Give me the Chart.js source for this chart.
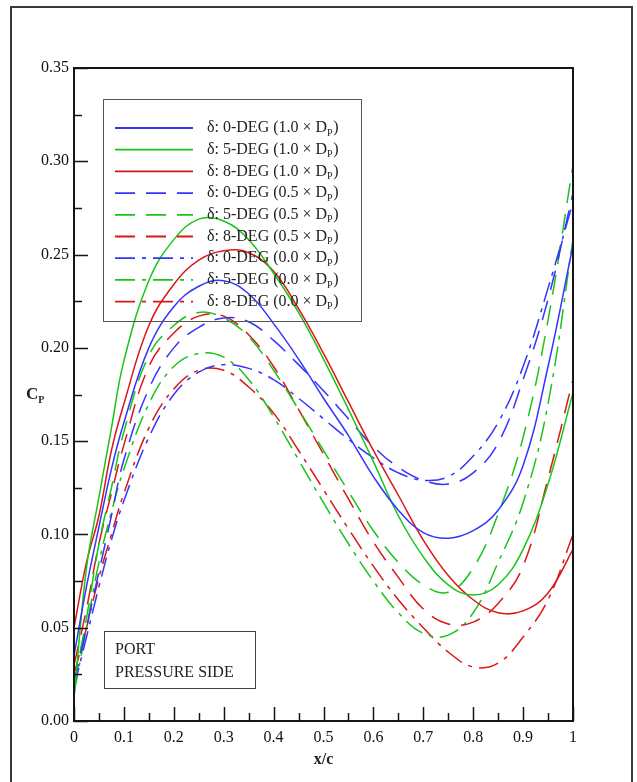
<!DOCTYPE html>
<html><head><meta charset="utf-8">
<script src="https://cdn.jsdelivr.net/npm/chart.js@4/dist/chart.umd.min.js"></script>
<style>html,body{margin:0;padding:0;background:#fff;}canvas{display:block;}</style>
</head><body>
<canvas id="c" width="637" height="782"></canvas>
<script>
// x/c stations
const xc = [0,0.025,0.05,0.075,0.1,0.15,0.2,0.25,0.3,0.35,0.4,0.45,0.5,0.55,0.6,0.65,0.7,0.75,0.8,0.85,0.9,0.95,1.0];
// Cp values, 1.0 x Dp (solid)
const cp_0deg_10 = [0.035,0.072,0.104,0.135,0.16,0.2,0.222,0.233,0.236,0.229,0.213,0.194,0.173,0.153,0.131,0.113,0.101,0.098,0.102,0.113,0.137,0.19,0.255];
const cp_5deg_10 = [0.012,0.082,0.12,0.157,0.193,0.236,0.258,0.269,0.268,0.258,0.24,0.219,0.194,0.167,0.139,0.11,0.088,0.073,0.0675,0.073,0.092,0.127,0.176];
const cp_8deg_10 = [0.05,0.085,0.11,0.145,0.17,0.212,0.234,0.247,0.252,0.251,0.241,0.221,0.197,0.171,0.145,0.121,0.097,0.078,0.065,0.058,0.059,0.0686,0.092];
// 0.5 x Dp (dashed)
const cp_0deg_05 = [0.02,0.05,0.08,0.11,0.14,0.178,0.2,0.211,0.216,0.214,0.204,0.191,0.177,0.162,0.147,0.136,0.129,0.127,0.133,0.149,0.183,0.226,0.283];
const cp_5deg_05 = [0.02,0.055,0.095,0.125,0.155,0.196,0.212,0.219,0.216,0.206,0.188,0.167,0.145,0.123,0.102,0.085,0.073,0.069,0.082,0.111,0.152,0.215,0.298];
const cp_8deg_05 = [0.03,0.06,0.095,0.122,0.148,0.19,0.208,0.217,0.217,0.207,0.19,0.167,0.143,0.119,0.096,0.077,0.06,0.052,0.053,0.063,0.083,0.13,0.183];
// 0.0 x Dp (dash-dot)
const cp_0deg_00 = [0.018,0.045,0.072,0.097,0.118,0.152,0.175,0.187,0.191,0.189,0.183,0.173,0.162,0.151,0.141,0.133,0.129,0.131,0.142,0.16,0.19,0.232,0.278];
const cp_5deg_00 = [0.015,0.05,0.085,0.112,0.135,0.17,0.19,0.197,0.195,0.183,0.163,0.14,0.117,0.095,0.075,0.058,0.047,0.046,0.058,0.085,0.117,0.17,0.258];
const cp_8deg_00 = [0.025,0.05,0.077,0.1,0.122,0.157,0.178,0.188,0.188,0.179,0.165,0.145,0.124,0.103,0.083,0.065,0.05,0.037,0.029,0.031,0.045,0.065,0.1];

const angles = ['0','5','8'];
const factors = ['1.0','0.5','0.0'];
const yTickLabels = ['0.00','0.05','0.10','0.15','0.20','0.25','0.30','0.35'];

const series = [cp_0deg_10,cp_5deg_10,cp_8deg_10,cp_0deg_05,cp_5deg_05,cp_8deg_05,cp_0deg_00,cp_5deg_00,cp_8deg_00];
const colors = ['#3434ff','#18c418','#dc1616'];
const dashes = [[],[20,11],[20,7,4,7]];
const FONT = '"Liberation Serif","Times New Roman",serif';

const datasets = series.map((s,i)=>({
  label: 'δ: '+angles[i%3]+'-DEG ('+factors[Math.floor(i/3)]+' × DP)',
  data: s.map((v,k)=>({x:xc[k], y:v})),
  borderColor: colors[i%3],
  borderDash: dashes[Math.floor(i/3)],
  borderWidth: 1.5,
  pointRadius: 0,
  tension: 0.4,
  fill: false
}));

const deco = {
  id:'deco',
  beforeDraw(chart){
    const ctx = chart.ctx;
    ctx.save();
    ctx.fillStyle='#fff'; ctx.fillRect(0,0,chart.width,chart.height);
    ctx.strokeStyle='#3a3a3a'; ctx.lineWidth=2;
    ctx.beginPath(); ctx.moveTo(11,800); ctx.lineTo(11,7); ctx.lineTo(632,7); ctx.lineTo(632,800); ctx.stroke();
    ctx.restore();
  },
  afterDatasetsDraw(chart){
    const {ctx, chartArea:a, scales:{x,y}} = chart;
    ctx.save();
    // plot frame
    ctx.strokeStyle='#151515'; ctx.lineWidth=2;
    ctx.strokeRect(a.left, a.top, a.right-a.left, a.bottom-a.top);
    // ticks (inward)
    ctx.lineWidth=1.5;
    const xt = x.ticks.map(t=>t.value), yt = y.ticks.map(t=>t.value);
    ctx.beginPath();
    xt.forEach((v,i)=>{
      const px = Math.round(x.getPixelForValue(v))+0.5;
      ctx.moveTo(px,a.bottom); ctx.lineTo(px,a.bottom-14);
      if(i<xt.length-1){const pm=Math.round(x.getPixelForValue((v+xt[i+1])/2))+0.5; ctx.moveTo(pm,a.bottom); ctx.lineTo(pm,a.bottom-8);}
    });
    yt.forEach((v,i)=>{
      const py = Math.round(y.getPixelForValue(v))+0.5;
      ctx.moveTo(a.left,py); ctx.lineTo(a.left+14,py);
      if(i<yt.length-1){const pm=Math.round(y.getPixelForValue((v+yt[i+1])/2))+0.5; ctx.moveTo(a.left,pm); ctx.lineTo(a.left+8,pm);}
    });
    ctx.stroke();

    // legend
    ctx.lineWidth=1; ctx.strokeStyle='#555';
    ctx.strokeRect(103.5,99.5,258,222);
    chart.data.datasets.forEach((ds,i)=>{
      const ry = 128 + i*21.7;
      ctx.save();
      ctx.strokeStyle=ds.borderColor; ctx.lineWidth=1.8; ctx.setLineDash(ds.borderDash);
      ctx.beginPath(); ctx.moveTo(115,ry); ctx.lineTo(193,ry); ctx.stroke();
      ctx.restore();
      ctx.fillStyle='#222'; ctx.textBaseline='middle'; ctx.textAlign='left';
      ctx.font='16px '+FONT;
      const main='δ: '+angles[i%3]+'-DEG ('+factors[Math.floor(i/3)]+' × D';
      ctx.fillText(main,207,ry);
      let w=ctx.measureText(main).width;
      ctx.font='10px '+FONT;
      ctx.fillText('P',207+w,ry+5);
      const w2=ctx.measureText('P').width;
      ctx.font='16px '+FONT;
      ctx.fillText(')',207+w+w2+0.5,ry);
    });

    // annotation box
    ctx.strokeStyle='#444'; ctx.lineWidth=1;
    ctx.strokeRect(104.5,631.5,151,57);
    ctx.fillStyle='#222'; ctx.font='16px '+FONT; ctx.textBaseline='middle';
    ctx.fillText('PORT',115,650);
    ctx.fillText('PRESSURE SIDE',115,673);

    // axis titles
    ctx.font='bold 16px '+FONT; ctx.textAlign='center';
    ctx.fillText('x/c',(a.left+a.right)/2,760);
    ctx.textAlign='left';
    ctx.font='bold 17px '+FONT;
    ctx.fillText('C',26,395);
    const cw=ctx.measureText('C').width;
    ctx.font='bold 10px '+FONT;
    ctx.fillText('P',26+cw,400);
    ctx.restore();
  }
};

new Chart(document.getElementById('c'),{
  type:'line',
  data:{datasets},
  options:{
    responsive:false, animation:false, devicePixelRatio:1,
    layout:{padding:{left:0,right:64,top:68,bottom:0}},
    plugins:{legend:{display:false},tooltip:{enabled:false}},
    scales:{
      x:{type:'linear',min:0,max:1,
        ticks:{stepSize:0.1,padding:7,color:'#111',autoSkip:false,maxRotation:0,font:{family:FONT,size:16},
          callback:v=>{const r=Math.round(v*10)/10; return r===0?'0':(r===1?'1':r.toFixed(1));}},
        grid:{display:false,drawTicks:false},border:{display:false},
        afterFit(s){s.height=61;}},
      y:{type:'linear',min:0,max:0.35,
        ticks:{stepSize:0.05,padding:5,color:'#111',font:{family:FONT,size:16},
          callback:v=>yTickLabels[Math.round(v/0.05)] ?? v.toFixed(2)},
        grid:{display:false,drawTicks:false},border:{display:false},
        afterFit(s){s.width=74;}}
    }
  },
  plugins:[deco]
});
</script>
</body></html>
